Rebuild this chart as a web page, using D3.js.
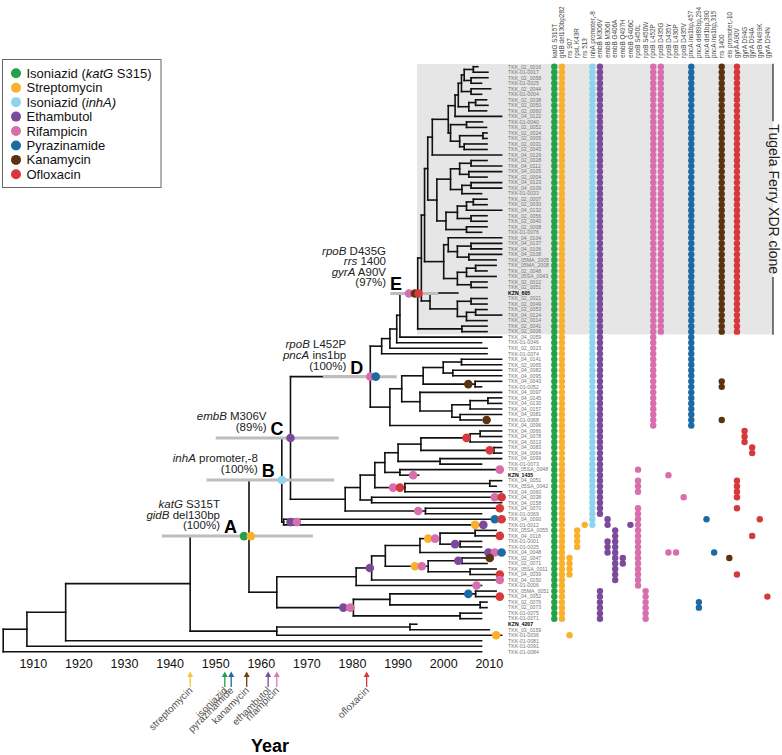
<!DOCTYPE html>
<html><head><meta charset="utf-8">
<script src="https://cdn.jsdelivr.net/npm/d3@7"></script>
<style>body{margin:0;background:#fff}svg{font-family:"Liberation Sans",Arial,sans-serif}</style>
</head><body><svg id="c" width="782" height="755"></svg>
<script>
// ---------------- data ----------------
const drugs = ["Isoniazid (katG S315)","Streptomycin","Isoniazid (inhA)","Ethambutol","Rifampicin","Pyrazinamide","Kanamycin","Ofloxacin"];
const drugColors = ["#23a24a","#f9b12b","#8fd4ea","#7b4a9b","#d86eae","#1c6aa4","#5c3311","#d6383b"];
const yearTicks = [1910,1920,1930,1940,1950,1960,1970,1980,1990,2000,2010];
const tipNames = ["TKK_02_0016","TKK-01-0017","TKK_02_0058","TKK-01-0025","TKK_02_0044","TKK-01-0004","TKK_02_0038","TKK_02_0050","TKK_02_0060","TKK_04_0122","TKK-01-0040","TKK_02_0052","TKK_02_0024","TKK_02_0005","TKK_02_0031","TKK_02_0043","TKK_04_0129","TKK_02_0028","TKK_04_0112","TKK_04_0105","TKK_02_0004","TKK_04_0123","TKK_04_0109","TKK-01-0033","TKK_02_0007","TKK_02_0030","TKK_04_0132","TKK_02_0056","TKK_02_0040","TKK_02_0008","TKK-01-0076","TKK_04_0104","TKK_04_0137","TKK_04_0106","TKK_04_0108","TKK_05MA_2005","TKK_05MA_2008","TKK_02_0048","TKK_05SA_0043","TKK_02_0012","TKK_02_0051","KZN_605","TKK_02_0021","TKK_02_0049","TKK_02_0053","TKK_04_0124","TKK_02_0014","TKK_02_0041","TKK_02_0006","TKK_04_0059","TKK-01-0046","TKK_02_0023","TKK-01-0074","TKK_04_0141","TKK_02_0065","TKK_04_0082","TKK_04_0095","TKK_04_0043","TKK-01-0052","TKK_04_0097","TKK_04_0145","TKK_04_0130","TKK_04_0157","TKK_04_0081","TKK-01-0068","TKK_04_0096","TKK_04_0066","TKK_04_0078","TKK_04_0013","TKK_04_0083","TKK_04_0064","TKK_04_0099","TKK-01-0073","TKK_05SA_0048","KZN_1435","TKK_04_0051","TKK_05SA_0042","TKK_04_0060","TKK_04_0038","TKK_04_0158","TKK_04_0070","TKK-01-0069","TKK_04_0090","TKK-01-0012","TKK_05SA_0055","TKK_04_0118","TKK-01-0001","TKK-01-0035","TKK_04_0048","TKK_02_0047","TKK_02_0071","TKK_05SA_0011","TKK_04_0039","TKK_04_0150","TKK-01-0006","TKK_05MA_0051","TKK_04_0052","TKK_02_0076","TKK_02_0073","TKK-01-0075","TKK-01-0071","KZN_4207","TKK_03_0159","TKK-01-0036","TKK-01-0081","TKK-01-0091","TKK-01-0084"];
const tipYears = [
 2007.5,2009.7,2009.7,2008.3,2010.3,2008.3,2009.4,2009.7,2009.4,2012.7,
 2008.5,2009.4,2009.5,2009.5,2009.5,2009.5,2012.7,2009.5,2012.7,2012.7,
 2009.5,2012.7,2012.7,2008.3,2009.5,2009.5,2012.7,2009.5,2009.5,2009.5,
 2008.3,2012.7,2012.7,2012.7,2012.7,2011.5,2011.5,2009.5,2011.5,2009.5,
 2009.5,2003.1,2009.5,2009.5,2009.5,2012.7,2009.5,2009.5,2009.5,2012.7,
 2008.3,2009.5,2009.5,2012.7,2012.7,2012.7,2012.7,2012.7,2008.3,2012.7,
 2012.7,2012.7,2012.7,2012.7,2008.3,2012.7,2012.7,2012.7,2012.7,2012.7,
 2012.7,2012.7,2008.3,2012.7,1994.5,2012.7,2011.5,2012.7,2012.7,2012.7,
 2012.7,2008.3,2012.7,2008.3,2011.5,2012.7,2008.3,2008.3,2012.7,2009.5,
 2009.5,2011.5,2012.7,2012.7,2008.3,2011.5,2012.7,2009.5,2009.5,2008.3,
 2008.3,1994.1,2010,2012.7,2008.3,2008.3,2008.3];
// tree topology as Newick pieces: leaves = row index, internal label = node date (year)
const cladeE0 = "(((((((0,1)2006.5,(2,3)2006)2004.5,(4,5)2006)2003.9,((6,7)2007,8)2005.5)2003.2,9)2002.5,((10,11)2005,((12,13)2008.6,(14,15)2004.5)2003.5)2001.5)2001,16)1997.5";
const cladeE17 = "((((17,18)2006,(19,20)2005.5)2003.5,((21,22)2006,23)2004)2001.5,((((24,25)2006.5,26)2005,(27,28)2006)2003,(29,30)2005)2000.5)1998.5";
const cladeE31 = "((31,((32,33)2006,(34,35)2005.5)2003)2001,(((36,37)2007,38)2005,(39,40)2006)2003)2000";
const cladeE41 = "(41,((42,43)2006,((44,45)2007,46)2005)2003)1997";
const cladeDlow = "(((((53,54)2003.9,(55,56)2002.0)1999.9,(57,58)2006.9)1995.5,(59,(((60,61)2009.7,62)2005.8,(63,64)2003.6)2001.8)1994.8)1990.8,65)1988.2";
const cladeClow = "((((((((66,67)2008,68)2005.8,(69,70)2011)1995,(71,72)1999.2)1990,(73,74)1990.4)1987.1,((75,76)2010.1,77)1991.5)1984.9,(78,79)1984.2)1981.7,(80,81)1996)1978.4";
const cladeA2 = "(((((((84,85)2006.9,(86,87)2003.6)1999.2,88)1994.8,((89,90)2004,(91,92)2005.8)1996.6)1987.2,93)1984.2,94)1980.8,(((95,96)2007,(97,98)2008)1988.2,(99,100)2003.6)1980.2)1963.4";
const cladeE = "((((" + cladeE0 + "," + cladeE17 + ")1996.5," + cladeE31 + ")1995.8," + cladeE41 + ")1995.1,(47,48)2004)1994.3";
const treeNewick = "((((((((((((" + cladeE + ",49)1990.4,50)1989.7,51)1988.2,52)1986.4," + cladeDlow + ")1983.9," + cladeClow + ")1966.4,(82,83)1964.9)1964.5," + cladeA2 + ")1957.3,((101,102)1992.6,103)1963.4)1944.4,104)1917.1,105)1908.6,106)1903.4";
const nodeLabels = [
  {id:"A", tips:[0,100], hpd:[1938.2,1971.3], support:"100%", muts:[["katG","S315T"],["gidB","del130bp"]]},
  {id:"B", tips:[0,83],  hpd:[1948.0,1976.0], support:"100%", muts:[["inhA","promoter,-8"]]},
  {id:"C", tips:[0,81],  hpd:[1950.0,1977.0], support:"89%",  muts:[["embB","M306V"]]},
  {id:"D", tips:[0,65],  hpd:[1973.5,1989.7], support:"100%", muts:[["rpoB","L452P"],["pncA","ins1bp"]]},
  {id:"E", tips:[0,48],  hpd:[1988.3,1998.8], support:"97%",  muts:[["rpoB","D435G"],["rrs","1400"],["gyrA","A90V"]]}
];
// branch mutations: [first tip, last tip, drug index, year]
const branchMuts = [
  [0,100,0,1956.2],[0,100,1,1957.7],[0,83,2,1964.5],[0,81,3,1966.4],
  [0,65,4,1983.9],[0,65,5,1985.1],[0,48,4,1992.4],[0,48,6,1993.7],[0,48,7,1994.5],
  [82,83,3,1966.4],[82,83,4,1967.8],[57,58,6,2005.4],[64,64,6,2009.4],
  [66,68,7,2005.0],[69,70,7,2010.1],[73,73,4,2012.3],[74,74,4,1993.3],[75,77,4,1988.9],[75,77,7,1990.4],
  [78,78,4,2011.2],[78,78,7,2012.7],[80,81,4,1994.4],[80,80,7,2012.3],
  [82,82,5,2011.2],[82,82,7,2012.7],[83,83,1,2006.9],[83,83,3,2008.7],
  [84,93,3,1983.8],[84,87,1,1996.6],[84,87,4,1998.1],[86,87,3,2002.5],[85,85,7,2012.3],
  [88,88,3,2009.8],[88,88,4,2011.2],[88,88,5,2012.7],[89,89,6,2010.1],[89,90,3,2003.2],
  [89,92,1,1993.7],[89,92,4,1995.2],[92,92,7,2012.3],[93,93,4,2012.3],[94,94,4,2007.2],
  [95,100,3,1978.0],[95,100,4,1979.5],[95,96,5,2005.4],[96,96,7,2012.3],[103,103,1,2011.5]
];
const mutColumns = ["katG S315T","gidB del130bp282","rrs 907","rpsL K43R","rrs 513","inhA promoter,-8","embB M306V","embB M306I","embB G406A","embB Q497H","embB G406C","rpoB S450L","rpoB S450W","rpoB L452P","rpoB D435G","rpoB D435Y","rpoB L430P","rpoB D435V","pncA ins1bp,457","pncA del89bp,294","pncA del1bp,390","pncA ins1bp,315","rrs 1400","eis promoter,-10","gyrA A90V","gyrA D94G","gyrA D94A","gyrB N499K","gyrA D94N"];
const colDrug = [0,1,1,1,1,2,3,3,3,3,3,4,4,4,4,4,4,4,5,5,5,5,6,6,7,7,7,7,7];
// genotype blocks: [first row, last row, column]
const genotypes = [
  [0,100,"katG S315T"],[0,100,"gidB del130bp282"],[0,83,"inhA promoter,-8"],[0,81,"embB M306V"],
  [0,65,"rpoB L452P"],[0,48,"rpoB D435G"],[0,65,"pncA ins1bp,457"],[0,48,"rrs 1400"],[0,48,"gyrA A90V"],
  [57,58,"rrs 1400"],[64,64,"rrs 1400"],[66,68,"gyrA D94G"],[69,70,"gyrA D94A"],
  [73,73,"rpoB S450L"],[74,74,"rpoB D435Y"],[75,77,"rpoB S450L"],[75,78,"gyrA A90V"],[78,78,"rpoB D435V"],
  [80,94,"rpoB S450L"],[80,80,"gyrA A90V"],[82,83,"embB M306I"],[82,82,"pncA del1bp,390"],[82,82,"gyrB N499K"],
  [83,83,"rrs 513"],[83,83,"embB G406C"],[84,87,"rpsL K43R"],[84,93,"embB G406A"],[86,88,"embB M306I"],
  [85,85,"gyrA D94A"],[88,88,"rpoB D435Y"],[88,88,"rpoB L430P"],[88,88,"pncA ins1bp,315"],[89,89,"eis promoter,-10"],
  [89,90,"embB Q497H"],[89,92,"rrs 907"],[92,92,"gyrA A90V"],[95,100,"embB M306V"],[95,100,"rpoB S450W"],
  [96,96,"gyrA D94N"],[97,98,"pncA del89bp,294"],[103,103,"rrs 907"]
];
const drugArrows = [["streptomycin",1944.4,1],["isoniazid",1952.0,0],["pyrazinamide",1953.4,5],["kanamycin",1956.8,6],["ethambutol",1961.5,3],["rifampicin",1963.4,4],["ofloxacin",1983.1,7]];
const arrowColors = ["#23a24a","#f7c43a","#8fd4ea","#7b4a9b","#d97ab8","#1c6aa4","#6b3f16","#d6383b"];
const cloneLabel = "Tugela Ferry XDR clone";

// ---------------- scales ----------------
const svg = d3.select("#c");
const x = d3.scaleLinear().domain([1910,2010]).range([33.3,489.3]);
const yRow = d3.scaleLinear().domain([0,106]).range([66.7,651.8]);
const colX = d3.scalePoint().domain(mutColumns).range([554.3,767.4]);

// ---------------- tree ----------------
function parseNewick(s){
  let i=0;
  function node(){
    const n={};
    if(s[i]==='('){ i++; n.children=[];
      while(i<s.length){ n.children.push(node()); if(s[i]===','){i++;continue;} i++; break; }
    }
    let lab=''; while(i<s.length && !',()'.includes(s[i])) lab+=s[i++];
    if(n.children) n.year=+lab; else n.tip=+lab;
    return n;
  }
  return node();
}
const root = d3.hierarchy(parseNewick(treeNewick));
root.eachAfter(d=>{
  if(d.children){
    d.y0 = (d.children[0].y0 + d.children[d.children.length-1].y0)/2;
    d.yr = d.data.year;
    d.lo = d3.min(d.children,c=>c.lo); d.hi = d3.max(d.children,c=>c.hi);
  } else {
    d.y0 = yRow(d.data.tip); d.yr = tipYears[d.data.tip]; d.lo = d.hi = d.data.tip;
  }
});
function mrca(a,b){ let f=null; root.each(d=>{ if(d.lo===a && d.hi===b && !f) f=d; }); return f; }

// shaded clone
svg.append("rect").attr("x",417).attr("y",yRow(0)-2.7).attr("width",773-417).attr("height",yRow(48)-yRow(0)+5.4).attr("fill","#e6e6e6");

const gT = svg.append("g").attr("stroke","#111").attr("stroke-width",1.6).attr("fill","none").attr("stroke-linecap","square");
root.descendants().forEach(d=>{
  if(d.parent) gT.append("line").attr("x1",x(d.parent.yr)).attr("x2",x(d.yr)).attr("y1",d.y0).attr("y2",d.y0);
  if(d.children) gT.append("line").attr("x1",x(d.yr)).attr("x2",x(d.yr)).attr("y1",d.children[0].y0).attr("y2",d.children[d.children.length-1].y0);
});

// HPD bars
nodeLabels.forEach(n=>{
  const d = mrca(n.tips[0],n.tips[1]);
  if(!d) return;
  svg.append("line").attr("x1",x(n.hpd[0])).attr("x2",x(n.hpd[1])).attr("y1",d.y0).attr("y2",d.y0).attr("stroke","#bdbdbd").attr("stroke-width",3);
});

// branch mutation dots
branchMuts.forEach(m=>{
  const d = mrca(m[0],m[1]);
  if(!d) return;
  svg.append("circle").attr("cx",x(m[3])).attr("cy",d.y0).attr("r",4.3).attr("fill",drugColors[m[2]]);
});

// node labels
nodeLabels.forEach(n=>{
  const d = mrca(n.tips[0],n.tips[1]);
  if(!d) return;
  const first = d3.min(branchMuts.filter(m=>m[0]===n.tips[0]&&m[1]===n.tips[1]),m=>x(m[3]));
  const lx = first-7, ly = d.y0-3;
  const L = svg.append("text").attr("x",lx).attr("y",ly).attr("text-anchor","end").attr("font-weight","bold").attr("font-size",18).text(n.id);
  const bb = L.node().getBBox();
  const tx = bb.x-4;
  const lines = n.muts.length+1;
  n.muts.forEach((m,i)=>{
    const t = svg.append("text").attr("x",tx).attr("y",ly-4-(lines-1-i)*10.6).attr("text-anchor","end").attr("font-size",11.5).attr("fill","#222");
    t.append("tspan").attr("font-style","italic").text(m[0]);
    t.append("tspan").text(" "+m[1]);
  });
  svg.append("text").attr("x",tx).attr("y",ly-4).attr("text-anchor","end").attr("font-size",11.5).attr("fill","#222").text("("+n.support+")");
});

// tip labels
svg.append("g").selectAll("text").data(tipNames).join("text")
  .attr("x",508).attr("y",(d,i)=>yRow(i)+1.8).attr("font-size",5.2)
  .attr("fill",d=>d.startsWith("KZN")?"#000":"#777").attr("font-weight",d=>d.startsWith("KZN")?"bold":"normal").text(d=>d);

// genotype dots
const gD = svg.append("g");
genotypes.forEach(g=>{
  const ci = mutColumns.indexOf(g[2]);
  for(const r of d3.range(g[0],g[1]+1))
    gD.append("circle").attr("cx",colX(g[2])).attr("cy",yRow(r)).attr("r",3.2).attr("fill",drugColors[colDrug[ci]]);
});
// column headers
svg.append("g").selectAll("text").data(mutColumns).join("text")
  .attr("transform",d=>`translate(${colX(d)+2.2},58) rotate(-90)`).attr("font-size",6.4).attr("fill","#444").text(d=>d);

// clone bracket
const cy0 = (yRow(0)+yRow(48))/2;
const bt = svg.append("text").attr("transform",`translate(769,${cy0}) rotate(90)`).attr("text-anchor","middle").attr("font-size",14).attr("fill","#222").text(cloneLabel);
const half = bt.node().getComputedTextLength()/2+3;
svg.append("line").attr("x1",773).attr("x2",773).attr("y1",yRow(0)-3).attr("y2",cy0-half).attr("stroke","#222").attr("stroke-width",1.2);
svg.append("line").attr("x1",773).attr("x2",773).attr("y1",cy0+half).attr("y2",yRow(48)+3).attr("stroke","#222").attr("stroke-width",1.2);

// legend
const lg = svg.append("g");
lg.append("rect").attr("x",2.5).attr("y",59.5).attr("width",158.5).attr("height",128).attr("fill","#fff").attr("stroke","#666");
drugs.forEach((d,i)=>{
  const yy = 73.3+i*14.43;
  lg.append("circle").attr("cx",16).attr("cy",yy).attr("r",5).attr("fill",drugColors[i]);
  const t = lg.append("text").attr("x",26.5).attr("y",yy+4.6).attr("font-size",13).attr("fill","#111");
  const m = d.match(/^(.*\()(\S+)(.*)$/);
  if(m){ t.append("tspan").text(m[1]); t.append("tspan").attr("font-style","italic").text(m[2]); t.append("tspan").text(m[3]); }
  else t.text(d);
});

// axis
svg.append("g").selectAll("text").data(yearTicks).join("text")
  .attr("x",d=>x(d)).attr("y",668).attr("text-anchor","middle").attr("font-size",12.5).attr("fill","#111").text(d=>d);
svg.append("text").attr("x",270).attr("y",752).attr("text-anchor","middle").attr("font-weight","bold").attr("font-size",18).text("Year");

// drug introduction arrows
drugArrows.forEach(a=>{
  const ax = x(a[1]), c = arrowColors[a[2]];
  svg.append("line").attr("x1",ax).attr("x2",ax).attr("y1",687).attr("y2",675).attr("stroke",c).attr("stroke-width",1.3);
  svg.append("path").attr("d",`M${ax-3},${677}L${ax},${671.5}L${ax+3},${677}Z`).attr("fill",c);
  svg.append("text").attr("transform",`translate(${ax+3},${691}) rotate(-45)`).attr("text-anchor","end").attr("font-size",10).attr("fill","#555").text(a[0]);
});
</script></body></html>
